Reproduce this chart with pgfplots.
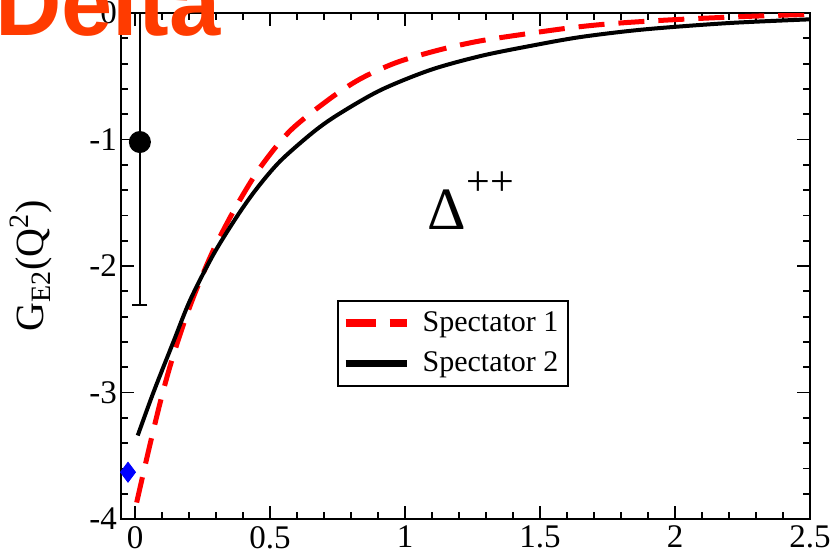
\documentclass[border=0pt]{standalone}
\usepackage{fontspec}
\setmainfont{Liberation Serif}
\newfontfamily\titlefont{Liberation Sans}
\usepackage{pgfplots}
\pgfplotsset{compat=1.18}
\definecolor{deltaorange}{RGB}{255,59,0}
\begin{document}
\begin{tikzpicture}
\begin{axis}[
  name=ax,
  scale only axis,
  width=344.5pt, height=253pt,
  xmin=-0.052, xmax=2.5, ymin=-4, ymax=0,
  xtick={0,0.5,1,1.5,2,2.5},
  xticklabels={0,0.5,1,1.5,2,2.5},
  ytick={-4,-3,-2,-1,0},
  minor x tick num=4, minor y tick num=4,
  tick align=inside,
  major tick length=6.5pt, minor tick length=3.5pt,
  tick style={line width=0.9pt, black},
  axis line style={line width=1pt},
  /pgf/number format/assume math mode=true,
  ticklabel style={font=\fontsize{16.5}{16.5}\selectfont},
  yticklabel style={xshift=1.5pt},
  ylabel={G\textsubscript{E2}(Q\textsuperscript{2})},
  ylabel style={at={(axis description cs:-0.112,0.5)}, anchor=base, font=\fontsize{20}{20}\selectfont},
  clip=true,
  legend cell align=left,
  legend style={at={(0.313,0.433)}, anchor=north west, draw=black, line width=1pt,
    font=\fontsize{15}{15}\selectfont, row sep=4.5pt, column sep=3pt, inner xsep=2pt, inner ysep=3.5pt,
    nodes={inner xsep=3pt}},
  legend image code/.code={\draw[#1] plot coordinates {(0pt,0pt) (30.5pt,0pt)};},
]
% Spectator 1 (red dashed)
\addplot[red, line width=2.5pt, dash pattern=on 13pt off 7pt, smooth, tension=0.5, forget plot] coordinates {
(0.006,-3.87) (0.050,-3.46) (0.093,-3.08) (0.130,-2.79) (0.170,-2.52) (0.210,-2.28)
(0.250,-2.07) (0.300,-1.83) (0.377,-1.52) (0.464,-1.22) (0.575,-0.93) (0.720,-0.68)
(0.835,-0.52) (0.970,-0.39) (1.130,-0.29) (1.280,-0.22) (1.465,-0.16) (1.620,-0.115)
(1.760,-0.085) (1.935,-0.06) (2.100,-0.042) (2.255,-0.028) (2.417,-0.016) (2.500,-0.011)
};
% Spectator 2 (black solid)
\addplot[black, line width=2pt, smooth, tension=0.5, forget plot] coordinates {
(0.010,-3.34) (0.068,-3.00) (0.142,-2.60) (0.204,-2.27) (0.290,-1.91) (0.377,-1.61)
(0.450,-1.39) (0.538,-1.17) (0.661,-0.94) (0.754,-0.80) (0.909,-0.61) (1.094,-0.45)
(1.280,-0.34) (1.465,-0.26) (1.650,-0.19) (1.885,-0.13) (2.195,-0.08) (2.500,-0.05)
};
% data point with error bar
\addplot[black, line width=1pt, only marks, mark=*, mark size=5pt, forget plot,
  error bars/.cd, y dir=both, y explicit, error mark options={rotate=90, mark size=3.75pt, line width=1pt},
  error bar style={line width=1pt}] coordinates {
(0.018,-1.02) +- (0,1.29)
};
% blue diamond
\addplot[blue, only marks, mark=diamond*, mark size=5pt, forget plot] coordinates {(-0.026,-3.63)};
\addlegendimage{red, line width=4pt, dash pattern=on 15pt off 7pt}
\addlegendentry{Spectator 1}
\addlegendimage{black, line width=3.5pt}
\addlegendentry{Spectator 2}
\node[anchor=base west, inner sep=0pt] at (axis cs:1.083,-1.715)
  {\fontsize{30}{30}\selectfont Δ\raisebox{17pt}{\fontsize{21}{21}\selectfont ++}};
\end{axis}
\node[anchor=base west, inner sep=0pt, text=deltaorange, font=\titlefont\bfseries\fontsize{46}{46}\selectfont]
  at ([xshift=-63pt, yshift=-11pt]ax.north west) {Delta};
\pgfresetboundingbox
\useasboundingbox ([xshift=-60.5pt, yshift=-19pt]ax.south west) rectangle ([xshift=15pt, yshift=6.5pt]ax.north east);
\end{tikzpicture}
\end{document}
